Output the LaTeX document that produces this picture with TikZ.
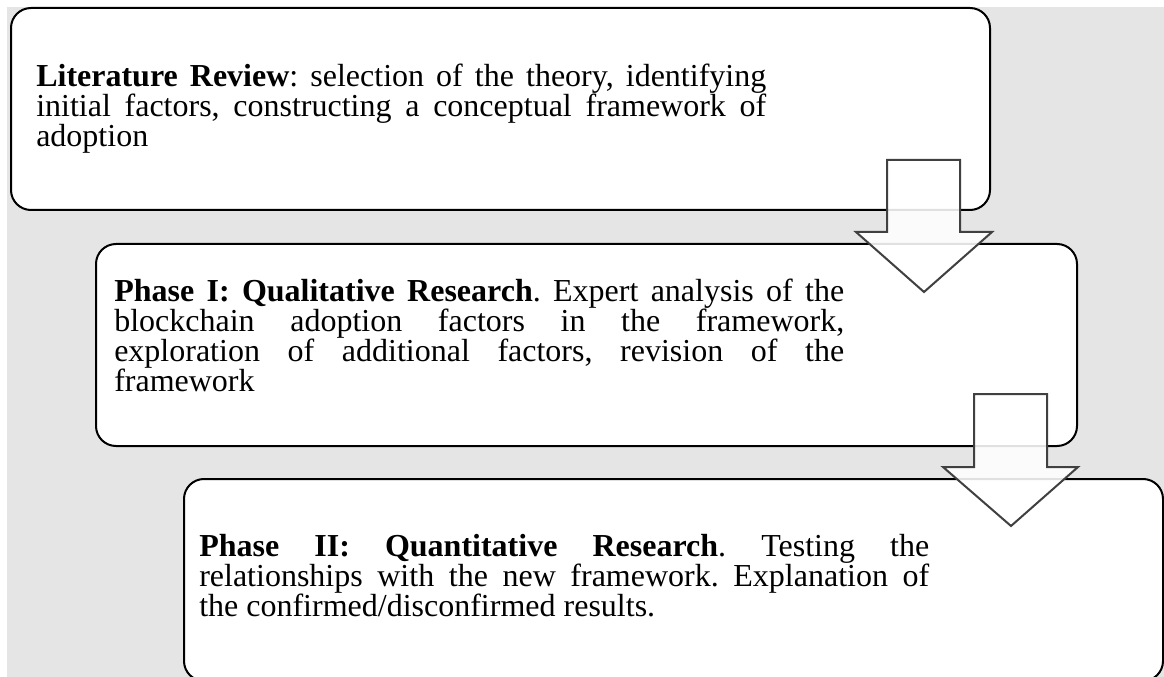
\documentclass[tikz,border=0pt]{standalone}
\usepackage{fontspec}
\setmainfont[Ligatures=NoCommon]{Liberation Serif}
\definecolor{panelgray}{RGB}{229,229,229}
\definecolor{arrowline}{RGB}{64,64,64}
% body text of the stages: tight, fixed line pitch, no hyphenation
\newcommand{\stagefont}{%
  \fontsize{24pt}{22.5pt}\selectfont
  \lineskiplimit=-\maxdimen\relax
  \lineskip=0pt\relax
  \hyphenpenalty=10000\relax}
\begin{document}
\frenchspacing
\begin{tikzpicture}[x=0.75pt,y=-0.75pt,
  stagebox/.style={draw=black, line width=1.5pt, fill=white, rounded corners=15pt,
    anchor=north west, inner sep=0pt, minimum width=#1*0.75pt, minimum height=202*0.75pt},
  stagetext/.style={anchor=base west, inner sep=0pt, text width=730*0.75pt, align=justify,
    font={\stagefont}},
  flowarrow/.style={draw=arrowline, line width=1.5pt, fill=white, fill opacity=0.88,
    line join=miter}]
\useasboundingbox (0,0) rectangle (1164,677);
\clip (0,0) rectangle (1164,677);
% panel behind the stages
\fill[panelgray] (7,7) rectangle (1164,677);

% the three stages
\node[stagebox=979] (lit)   at (10,7)   {};
\node[stagebox=981] (qual)  at (95,243) {};
\node[stagebox=979] (quant) at (183,478) {};

\node[stagetext] (litText) at (36,87)
  {\textbf{Literature Review}: selection of the theory, identifying\linebreak
   initial factors, constructing a conceptual framework of\linebreak
   adoption};
\node[stagetext] (qualText) at (114,302)
  {\textbf{Phase I: Qualitative Research}. Expert analysis of the\linebreak
   blockchain adoption factors in the framework,\linebreak
   exploration of additional factors, revision of the\linebreak
   framework};
\node[stagetext] (quantText) at (199,556)
  {\textbf{Phase II: Quantitative Research}. Testing the\linebreak
   relationships with the new framework. Explanation of\linebreak
   the confirmed/disconfirmed results.};

% block arrows between the stages
\draw[flowarrow] (887,160) -- (960,160) -- (960,232) -- (992,232) -- (924,292)
  -- (856,232) -- (887,232) -- cycle;
\draw[flowarrow] (974,394) -- (1047,394) -- (1047,467) -- (1078,467) -- (1011,526)
  -- (943,467) -- (974,467) -- cycle;
\end{tikzpicture}
\end{document}
